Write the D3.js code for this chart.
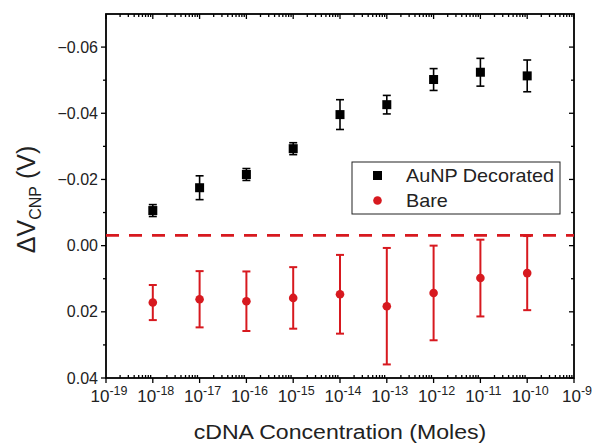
<!DOCTYPE html>
<html>
<head>
<meta charset="utf-8">
<script src="https://cdn.jsdelivr.net/npm/d3@7"></script>
<style>
  body { margin: 0; background: #fff; }
  svg { font-family: "Liberation Sans", Arial, sans-serif; }
</style>
</head>
<body>
<svg id="chart" width="592" height="443"></svg>
<script>
'use strict'

/****** DATA ******/

const concentrations = [1e-18, 1e-17, 1e-16, 1e-15, 1e-14, 1e-13, 1e-12, 1e-11, 1e-10]

// AuNP decorated, delta V (V) and error
const aunpValues = [-0.0106, -0.0175, -0.0215, -0.0293, -0.0396, -0.0426, -0.0502, -0.0524, -0.0513]
const aunpErrors = [0.0018, 0.0036, 0.0018, 0.0018, 0.0045, 0.0028, 0.0033, 0.0042, 0.0048]

// Bare
const bareValues = [0.0172, 0.0162, 0.0168, 0.0158, 0.0147, 0.0183, 0.0143, 0.0098, 0.0083]
const bareErrors = [0.0053, 0.0085, 0.0090, 0.0093, 0.0119, 0.0176, 0.0143, 0.0116, 0.0112]

const thresholdValue = -0.0031

const yTicks = [-0.06, -0.04, -0.02, 0.00, 0.02, 0.04]
const yMinorTicks = [-0.05, -0.03, -0.01, 0.01, 0.03]
const xExponents = [-19, -18, -17, -16, -15, -14, -13, -12, -11, -10, -9]

const legendLabels = ['AuNP Decorated', 'Bare']

/****** CHART ******/

const RED = '#d7191f'
const TEXT = '#222'
const STRETCH = 1.1 // source figure text is a bit wide

const margin = {top: 14, right: 18, bottom: 65, left: 106}
const width = 592 - margin.left - margin.right
const height = 443 - margin.top - margin.bottom

const x = d3.scaleLog().domain([1e-19, 1e-9]).range([0, width])
const y = d3.scaleLinear().domain([-0.07, 0.04]).range([0, height])

const svg = d3.select('#chart')
const g = svg.append('g').attr('transform', `translate(${margin.left},${margin.top})`)

// minor x ticks (2..9 per decade)
const minorX = []
for (let e = -19; e < -9; e++) {
  for (let k = 2; k <= 9; k++) minorX.push(k * Math.pow(10, e))
}
const majorX = xExponents.map(e => Math.pow(10, e))

const axes = g.append('g').attr('stroke', '#000').attr('stroke-width', 1.3)

// bottom: major out, minor in
axes.selectAll('.xb-major').data(majorX).join('line')
  .attr('class', 'xb-major')
  .attr('x1', d => x(d)).attr('x2', d => x(d)).attr('y1', height).attr('y2', height + 5)
axes.selectAll('.xb-minor').data(minorX).join('line')
  .attr('class', 'xb-minor')
  .attr('x1', d => x(d)).attr('x2', d => x(d)).attr('y1', height).attr('y2', height - 3)
// top: everything points down into the plot
axes.selectAll('.xt-major').data(majorX).join('line')
  .attr('class', 'xt-major')
  .attr('x1', d => x(d)).attr('x2', d => x(d)).attr('y1', 0).attr('y2', 5)
axes.selectAll('.xt-minor').data(minorX).join('line')
  .attr('class', 'xt-minor')
  .attr('x1', d => x(d)).attr('x2', d => x(d)).attr('y1', 0).attr('y2', 3)

// left: out, right: in
axes.selectAll('.yl-major').data(yTicks).join('line')
  .attr('class', 'yl-major')
  .attr('x1', -5).attr('x2', 0).attr('y1', d => y(d)).attr('y2', d => y(d))
axes.selectAll('.yl-minor').data(yMinorTicks).join('line')
  .attr('class', 'yl-minor')
  .attr('x1', -3).attr('x2', 0).attr('y1', d => y(d)).attr('y2', d => y(d))
axes.selectAll('.yr-major').data(yTicks).join('line')
  .attr('class', 'yr-major')
  .attr('x1', width - 5).attr('x2', width).attr('y1', d => y(d)).attr('y2', d => y(d))
axes.selectAll('.yr-minor').data(yMinorTicks).join('line')
  .attr('class', 'yr-minor')
  .attr('x1', width - 3).attr('x2', width).attr('y1', d => y(d)).attr('y2', d => y(d))

// frame
g.append('rect')
  .attr('width', width).attr('height', height)
  .attr('fill', 'none').attr('stroke', '#000').attr('stroke-width', 1.8)

// y tick labels
g.selectAll('.ylab').data(yTicks).join('text')
  .attr('class', 'ylab')
  .attr('x', -8).attr('y', d => y(d)).attr('dy', '0.35em')
  .attr('text-anchor', 'end').attr('font-size', 16).attr('fill', TEXT)
  .text(d => d3.format('.2f')(d))

// x tick labels: 10^e
const xl = g.selectAll('.xlab').data(xExponents).join('text')
  .attr('class', 'xlab')
  .attr('x', d => x(Math.pow(10, d)) + 3).attr('y', height + 24)
  .attr('text-anchor', 'middle').attr('font-size', 17).attr('fill', TEXT)
xl.append('tspan').text('10')
xl.append('tspan').attr('dy', -7).attr('font-size', 12.5).text(d => d)

// threshold dashed line
g.append('line')
  .attr('x1', 0).attr('x2', width)
  .attr('y1', y(thresholdValue)).attr('y2', y(thresholdValue))
  .attr('stroke', RED).attr('stroke-width', 2.8).attr('stroke-dasharray', '13,10')

// error bars
function errorBars(values, errors, color, cls, sw) {
  const data = concentrations.map((c, i) => ({c, v: values[i], e: errors[i]}))
  const eb = g.append('g').attr('stroke', color).attr('stroke-width', sw)
  eb.selectAll('.' + cls + '-v').data(data).join('line')
    .attr('x1', d => x(d.c)).attr('x2', d => x(d.c))
    .attr('y1', d => y(d.v - d.e)).attr('y2', d => y(d.v + d.e))
  eb.selectAll('.' + cls + '-t').data(data).join('line')
    .attr('class', cls + '-t')
    .attr('x1', d => x(d.c) - 4).attr('x2', d => x(d.c) + 4)
    .attr('y1', d => y(d.v - d.e)).attr('y2', d => y(d.v - d.e))
  eb.selectAll('.' + cls + '-b').data(data).join('line')
    .attr('class', cls + '-b')
    .attr('x1', d => x(d.c) - 4).attr('x2', d => x(d.c) + 4)
    .attr('y1', d => y(d.v + d.e)).attr('y2', d => y(d.v + d.e))
  return data
}

const bareData = errorBars(bareValues, bareErrors, RED, 'bare', 2)
const aunpData = errorBars(aunpValues, aunpErrors, '#000', 'aunp', 1.6)

g.selectAll('.bare-pt').data(bareData).join('circle')
  .attr('class', 'bare-pt')
  .attr('cx', d => x(d.c)).attr('cy', d => y(d.v)).attr('r', 4.3)
  .attr('fill', RED)

g.selectAll('.aunp-pt').data(aunpData).join('rect')
  .attr('class', 'aunp-pt')
  .attr('x', d => x(d.c) - 4.5).attr('y', d => y(d.v) - 4.5)
  .attr('width', 9).attr('height', 9).attr('fill', '#000')

// legend
const legend = svg.append('g').attr('transform', 'translate(352,162)')
legend.append('rect')
  .attr('width', 208).attr('height', 52)
  .attr('fill', '#fff').attr('stroke', '#222').attr('stroke-width', 1)
legend.append('rect').attr('x', 21).attr('y', 9).attr('width', 9).attr('height', 9).attr('fill', '#000')
legend.append('circle').attr('cx', 25.5).attr('cy', 38.5).attr('r', 4.3).attr('fill', RED)
legend.selectAll('.ltxt').data(legendLabels).join('text')
  .attr('class', 'ltxt')
  .attr('transform', (d, i) => `translate(54,${20 + i * 25}) scale(${STRETCH},1)`)
  .attr('font-size', 18).attr('fill', TEXT)
  .text(d => d)

// axis titles
svg.append('text')
  .attr('transform', `translate(${margin.left + width / 2},439) scale(${STRETCH},1)`)
  .attr('text-anchor', 'middle').attr('font-size', 21).attr('fill', TEXT)
  .text('cDNA Concentration (Moles)')

const yt = svg.append('text')
  .attr('transform', `translate(35,${margin.top + y(-0.02) + 20}) rotate(-90)`)
  .attr('text-anchor', 'middle').attr('font-size', 25).attr('fill', TEXT)
yt.append('tspan').text('\u0394V')
yt.append('tspan').attr('dy', 6).attr('font-size', 16).text('CNP')
yt.append('tspan').attr('dy', -6).text(' (V)')
</script>
</body>
</html>
